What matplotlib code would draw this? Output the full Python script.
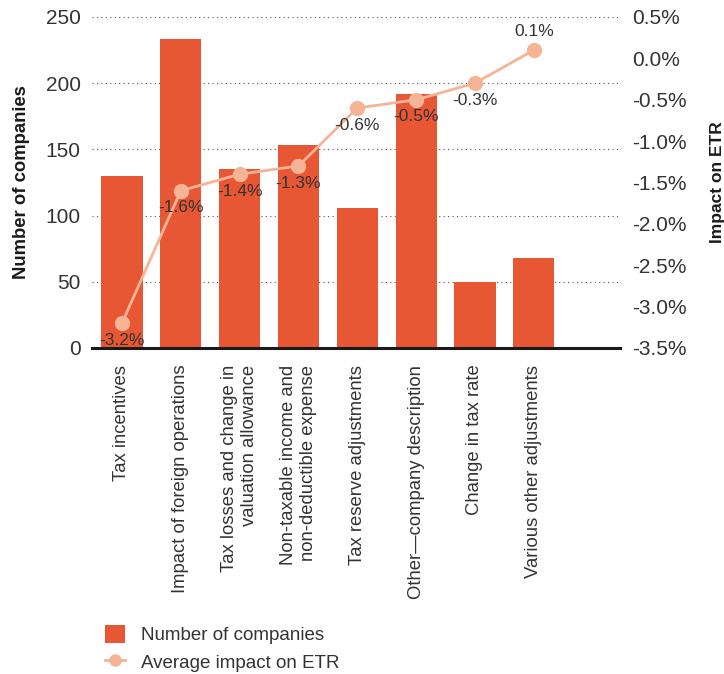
import matplotlib
matplotlib.use("Agg")
import matplotlib.pyplot as plt
from matplotlib.ticker import FuncFormatter, MultipleLocator

plt.rcParams['font.family'] = ['Liberation Sans', 'DejaVu Sans']

categories = [
    "Tax incentives",
    "Impact of foreign operations",
    "Tax losses and change in\nvaluation allowance",
    "Non-taxable income and\nnon-deductible expense",
    "Tax reserve adjustments",
    "Other\u2014company description",
    "Change in tax rate",
    "Various other adjustments",
]
companies = [130, 233, 135, 153, 106, 192, 50, 68]
etr_impact = [-3.2, -1.6, -1.4, -1.3, -0.6, -0.5, -0.3, 0.1]

bar_color = "#E85733"
line_color = "#F6B496"
text_color = "#333333"

fig = plt.figure(figsize=(7.24, 6.74), dpi=100)
ax = fig.add_axes([0.127, 0.4837, 0.729, 0.4911])
ax2 = ax.twinx()

x = list(range(len(categories)))
ax.bar(x, companies, width=0.7, color=bar_color, zorder=2, label="Number of companies")
ax.set_xlim(-0.51, 8.46)
ax.set_ylim(0, 250)
ax.yaxis.set_major_locator(MultipleLocator(50))
ax.grid(axis='y', linestyle=(0, (1, 3)), color='#555555', linewidth=0.8, zorder=0)
ax.set_axisbelow(True)

for s in ['top', 'right', 'left']:
    ax.spines[s].set_visible(False)
ax.spines['bottom'].set_linewidth(2.2)
ax.spines['bottom'].set_color('#1a1a1a')
ax.spines['bottom'].set_zorder(5)
for s in ax2.spines.values():
    s.set_visible(False)

ax.tick_params(axis='y', length=0, labelsize=15, labelcolor=text_color, pad=8)
ax.tick_params(axis='x', length=0, labelsize=13.3, labelcolor=text_color, pad=12)
ax.set_xticks(x)
ax.set_xticklabels(categories, rotation=90, ha='center', va='top', multialignment='right')
ax.set_ylabel("Number of companies", fontsize=13.3, fontweight='bold', color='#1a1a1a',
              labelpad=11)

ax2.plot(x, etr_impact, color=line_color, linewidth=2, marker='o', markersize=10,
         zorder=3, label="Average impact on ETR")
ax2.set_ylim(-3.5, 0.5)
ax2.yaxis.set_major_locator(MultipleLocator(0.5))
ax2.yaxis.set_major_formatter(FuncFormatter(lambda v, p: f"{v:.1f}%"))
ax2.tick_params(axis='y', length=0, labelsize=15, labelcolor=text_color, pad=9)
ax2.set_ylabel("Impact on ETR", fontsize=12.5, fontweight='bold', color='#1a1a1a',
               labelpad=17)

for xi, v in zip(x, etr_impact):
    if v > 0:
        ax2.annotate(f"{v:.1f}%", (xi, v), xytext=(0, 8), textcoords='offset points',
                     ha='center', va='bottom', fontsize=12.5, color=text_color)
    else:
        ax2.annotate(f"{v:.1f}%", (xi, v), xytext=(0, -7), textcoords='offset points',
                     ha='center', va='top', fontsize=12.5, color=text_color)

h1, l1 = ax.get_legend_handles_labels()
h2, l2 = ax2.get_legend_handles_labels()
fig.legend(h1 + h2, l1 + l2, loc='lower left', bbox_to_anchor=(0.122, -0.022),
           frameon=False, fontsize=13.5, labelcolor=text_color, handlelength=1.05,
           handleheight=1.05, handletextpad=0.85, labelspacing=0.45, markerscale=0.8)

fig.savefig("out.png", dpi=100)
